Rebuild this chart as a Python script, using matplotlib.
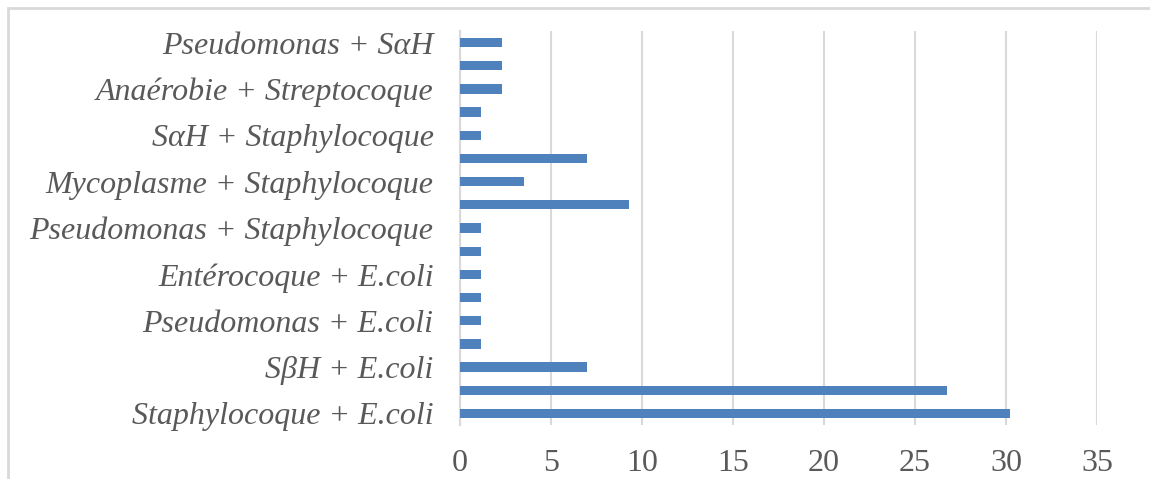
import matplotlib
matplotlib.use("Agg")
import matplotlib.pyplot as plt
from matplotlib.patches import Rectangle

# Co-infection combinations (bottom to top); only every other name is printed on the axis
categories = [
    "Staphylocoque + E.coli", "",
    "SβH + E.coli", "",
    "Pseudomonas + E.coli", "",
    "Entérocoque + E.coli", "",
    "Pseudomonas + Staphylocoque", "",
    "Mycoplasme + Staphylocoque", "",
    "SαH + Staphylocoque", "",
    "Anaérobie + Streptocoque", "",
    "Pseudomonas + SαH",
]
values = [30.23, 26.74, 6.98, 1.16, 1.16, 1.16, 1.16, 1.16, 1.16,
          9.30, 3.49, 6.98, 1.16, 1.16, 2.33, 2.33, 2.33]
xticks = [0, 5, 10, 15, 20, 25, 30, 35]

text_color = "#595959"
grid_color = "#D9D9D9"
bar_color = "#4F81BD"
label_font = "Liberation Serif"

fig = plt.figure(figsize=(11.5, 4.79), dpi=100)
ax = fig.add_axes([0.4, 0.1127, 0.5539, 0.8226])

ypos = list(range(len(values)))
ax.barh(ypos, values, height=0.4, color=bar_color, zorder=3)

ax.set_xlim(0, 35)
ax.set_ylim(-0.5, len(values) - 0.5)
ax.set_xticks(xticks)
ax.set_xticklabels([str(t) for t in xticks], fontfamily=label_font,
                   fontsize=23, color=text_color)

shown = [i for i, c in enumerate(categories) if c]
ax.set_yticks(shown)
ax.set_yticklabels([categories[i] for i in shown], fontfamily=label_font,
                   fontstyle="italic", fontsize=23, color=text_color)

ax.tick_params(axis="both", length=0)
ax.tick_params(axis="x", pad=17)
ax.tick_params(axis="y", pad=19)

ax.grid(axis="x", color=grid_color, linewidth=1.5, zorder=0)
for side in ("top", "right", "bottom"):
    ax.spines[side].set_visible(False)
ax.spines["left"].set_color(grid_color)
ax.spines["left"].set_linewidth(1.5)

# Light frame around the chart area
fig.patches.append(Rectangle((8 / 1150, -0.05), 1.2, 1 - 8 / 479 + 0.05,
                             transform=fig.transFigure, fill=False,
                             edgecolor=grid_color, linewidth=2))

fig.savefig("out.png", dpi=100)
